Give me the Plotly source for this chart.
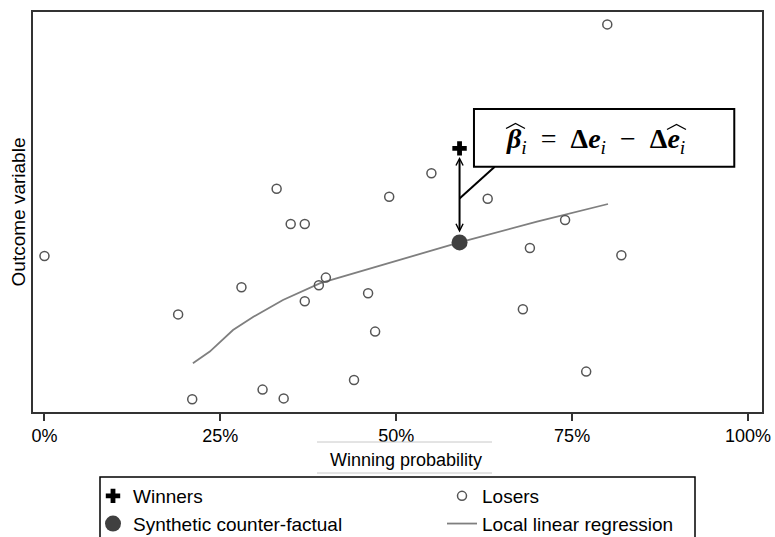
import plotly.graph_objects as go

# Winning probability (%) and outcome value for each losing candidate
loser_prob = [0, 19, 21, 28, 31, 33, 34, 35, 37, 37, 39, 40, 44, 46, 47, 49,
              55, 63, 68, 69, 74, 77, 80, 82]
loser_outcome = [39.0, 24.4, 3.2, 31.2, 5.6, 55.8, 3.4, 47.0, 47.0, 27.7, 31.7,
                 33.6, 8.0, 29.7, 20.1, 53.8, 59.7, 53.3, 25.7, 41.0, 48.0,
                 10.1, 96.9, 39.2]

# The winner and its synthetic counter-factual
winner_prob = [59]
winner_outcome = [65.9]
synthetic_prob = [59]
synthetic_outcome = [42.4]

# Local linear regression fitted on the losers
llr_prob = [21.1, 23.5, 26.8, 29.7, 33.9, 39.2, 47.7, 59.0, 70.0, 80.1]
llr_fit = [12.2, 15.1, 20.5, 23.8, 28.0, 32.2, 36.6, 42.4, 47.6, 52.0]

x_ticks = [0, 25, 50, 75, 100]
x_tick_labels = ["0%", "25%", "50%", "75%", "100%"]

SANS = "Liberation Sans, Arial, sans-serif"
SERIF = "Liberation Serif, Times New Roman, serif"


# pixel -> paper helpers for the fixed 729x400 plotting area
def px(xp):
    return (xp - 33) / 729


def py(yp):
    return (412 - yp) / 400


fig = go.Figure()

fig.add_trace(go.Scatter(
    x=llr_prob, y=llr_fit, mode="lines", name="Local linear regression",
    line=dict(color="#7f7f7f", width=1.8), legendrank=4))
fig.add_trace(go.Scatter(
    x=loser_prob, y=loser_outcome, mode="markers", name="Losers",
    marker=dict(symbol="circle-open", size=9, color="#555555",
                line=dict(width=1.5, color="#555555")), legendrank=2))
fig.add_trace(go.Scatter(
    x=synthetic_prob, y=synthetic_outcome, mode="markers",
    name="Synthetic counter-factual",
    marker=dict(symbol="circle", size=16, color="#404040"), legendrank=3))
fig.add_trace(go.Scatter(
    x=winner_prob, y=winner_outcome, mode="markers", name="Winners",
    marker=dict(symbol="cross", size=12, color="#000000"), legendrank=1))

# Double-headed arrow: winner outcome vs. synthetic counter-factual
fig.add_annotation(
    x=synthetic_prob[0], y=synthetic_outcome[0],
    ax=winner_prob[0], ay=winner_outcome[0], axref="x", ayref="y",
    xref="x", yref="y", text="", showarrow=True,
    arrowside="end+start", arrowhead=5, startarrowhead=5,
    arrowsize=0.7, startarrowsize=0.7, arrowwidth=2, arrowcolor="#000000",
    standoff=10, startstandoff=7)

# Callout box with the treatment-effect formula
box_x0, box_x1, box_y0, box_y1 = 61.05, 98.05, 61.3, 75.75
mid_y = (winner_outcome[0] + synthetic_outcome[0]) / 2
fig.add_shape(type="line", xref="x", yref="y",
              x0=winner_prob[0], y0=mid_y - 0.8, x1=64.0, y1=box_y0,
              line=dict(color="#000000", width=2))
fig.add_shape(type="rect", xref="x", yref="y",
              x0=box_x0, x1=box_x1, y0=box_y0, y1=box_y1,
              line=dict(color="#000000", width=2), fillcolor="white")
SP = "\u2002"
fig.add_annotation(
    x=px(504), y=py(140), xref="paper", yref="paper", showarrow=False,
    xanchor="left", yanchor="middle",
    text=(f"<b><i>β</i></b><sub><i>i</i></sub>{SP}={SP}"
          f"<b>Δ<i>e</i></b><sub><i>i</i></sub>{SP}−{SP}"
          f"<b>Δ<i>e</i></b><sub><i>i</i></sub>"),
    font=dict(family=SERIF, size=28, color="#000000"))
# wide hats over beta_i and e_i
for hx0, hx1, hy in ((506, 525, 128.5), (667, 686, 129.5)):
    fig.add_shape(type="path", xref="paper", yref="paper",
                  path=(f"M{px(hx0)},{py(hy)} L{px((hx0 + hx1) / 2)},{py(hy - 5)} "
                        f"L{px(hx1)},{py(hy)}"),
                  line=dict(color="#000000", width=1.3))

# X-axis title with its thin rules
fig.add_annotation(x=px(406), y=py(460), xref="paper", yref="paper",
                   showarrow=False, text="Winning probability",
                   font=dict(family=SANS, size=18, color="#000000"),
                   yanchor="middle")
for ry in (442, 473):
    fig.add_shape(type="line", xref="paper", yref="paper",
                  x0=px(317), x1=px(492), y0=py(ry), y1=py(ry),
                  line=dict(color="#c8c8c8", width=1))

# Legend frame
fig.add_shape(type="rect", xref="paper", yref="paper",
              x0=px(100), x1=px(695), y0=py(477), y1=py(545),
              line=dict(color="#000000", width=1.5))

fig.update_xaxes(
    range=[-1.63, 101.99], tickvals=x_ticks, ticktext=x_tick_labels,
    ticks="outside", ticklen=7, tickwidth=1.5, tickcolor="#333333",
    showline=True, linecolor="#333333", linewidth=1.5, mirror=True,
    showgrid=False, zeroline=False,
    tickfont=dict(family=SANS, size=18, color="#000000"))
fig.update_yaxes(
    range=[0, 100], showticklabels=False, ticks="",
    showline=True, linecolor="#333333", linewidth=1.5, mirror=True,
    showgrid=False, zeroline=False,
    title=dict(text="Outcome variable", standoff=1,
               font=dict(family=SANS, size=19, color="#000000")))

fig.update_layout(
    width=775, height=537,
    margin=dict(l=33, r=13, t=12, b=125, autoexpand=False),
    paper_bgcolor="white", plot_bgcolor="white",
    showlegend=True,
    legend=dict(orientation="h", x=px(93), y=py(477),
                xanchor="left", yanchor="top",
                entrywidth=304, entrywidthmode="pixels",
                bgcolor="rgba(0,0,0,0)", borderwidth=0,
                font=dict(family=SANS, size=19, color="#000000"),
                itemclick=False, itemdoubleclick=False),
)

fig.write_html("out.html")
